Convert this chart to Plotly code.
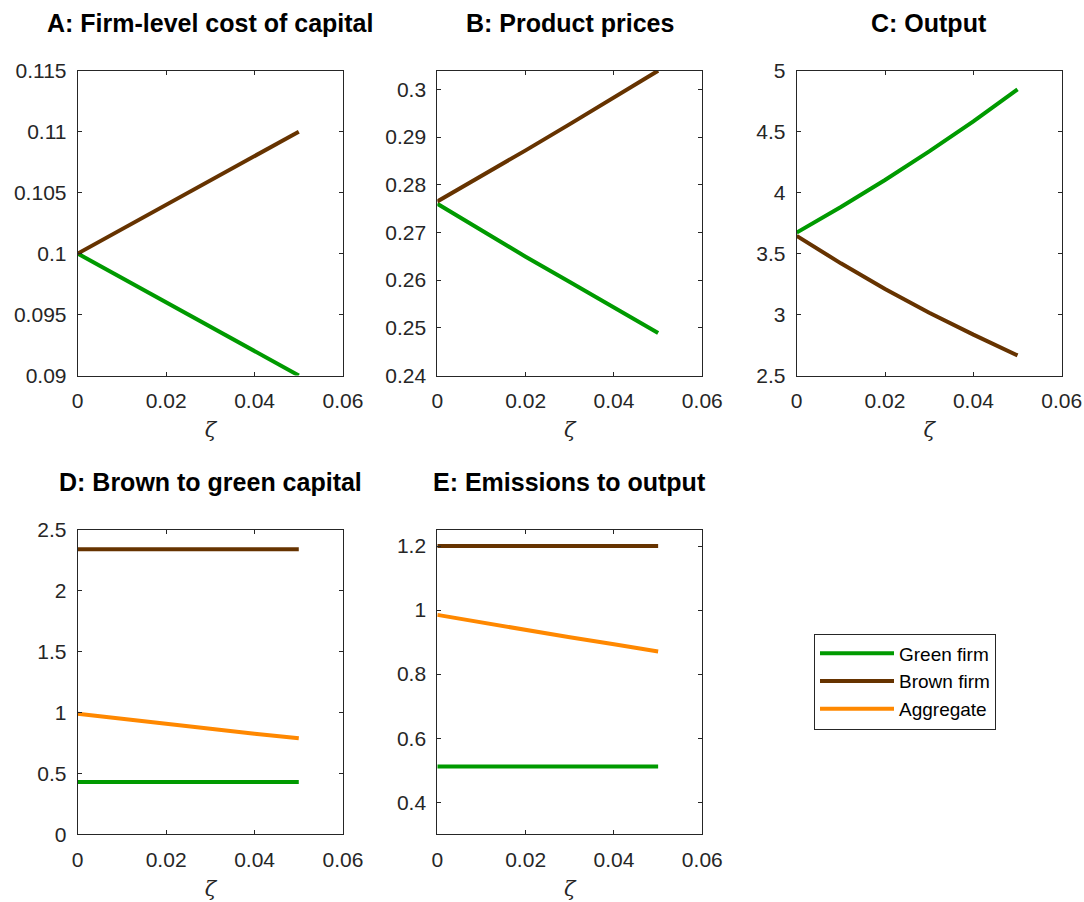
import plotly.graph_objects as go

zeta = [0, 0.01, 0.02, 0.03, 0.04, 0.05]

# A: Firm-level cost of capital
a_green = [0.100, 0.098, 0.096, 0.094, 0.092, 0.090]
a_brown = [0.100, 0.102, 0.104, 0.106, 0.108, 0.110]
# B: Product prices
b_green = [0.2760, 0.2704, 0.2649, 0.2596, 0.2542, 0.2489]
b_brown = [0.2765, 0.2818, 0.2872, 0.2927, 0.2983, 0.3039]
# C: Output
c_green = [3.672, 3.882, 4.104, 4.338, 4.584, 4.847]
c_brown = [3.645, 3.420, 3.210, 3.015, 2.835, 2.665]
# D: Brown to green capital
d_green = [0.430, 0.430, 0.430, 0.430, 0.430, 0.430]
d_brown = [2.341, 2.341, 2.341, 2.341, 2.341, 2.341]
d_aggr = [0.991, 0.948, 0.906, 0.866, 0.827, 0.789]
# E: Emissions to output
e_green = [0.512, 0.512, 0.512, 0.512, 0.512, 0.512]
e_brown = [1.200, 1.200, 1.200, 1.200, 1.200, 1.200]
e_aggr = [0.985, 0.961, 0.938, 0.915, 0.893, 0.871]

titles = ["A: Firm-level cost of capital", "B: Product prices", "C: Output",
          "D: Brown to green capital", "E: Emissions to output"]
x_ticks = [0, 0.02, 0.04, 0.06]
x_ticktext = ["0", "0.02", "0.04", "0.06"]
y_ranges = [[0.09, 0.115], [0.24, 0.3039], [2.5, 5], [0, 2.5], [0.3, 1.25]]
y_ticks = [
    [0.09, 0.095, 0.1, 0.105, 0.11, 0.115],
    [0.24, 0.25, 0.26, 0.27, 0.28, 0.29, 0.3],
    [2.5, 3, 3.5, 4, 4.5, 5],
    [0, 0.5, 1, 1.5, 2, 2.5],
    [0.4, 0.6, 0.8, 1, 1.2],
]
y_ticktext = [
    ["0.09", "0.095", "0.1", "0.105", "0.11", "0.115"],
    ["0.24", "0.25", "0.26", "0.27", "0.28", "0.29", "0.3"],
    ["2.5", "3", "3.5", "4", "4.5", "5"],
    ["0", "0.5", "1", "1.5", "2", "2.5"],
    ["0.4", "0.6", "0.8", "1", "1.2"],
]

GREEN = "#009a00"
BROWN = "#663300"
ORANGE = "#ff8800"
FONT = "Liberation Sans, Arial, Helvetica, sans-serif"
AX = "#262626"

W, H = 1084, 902
# plot areas in page pixels (left, right, top, bottom)
boxes = [
    (77.7, 343.0, 70.7, 375.5),
    (437.3, 702.3, 70.7, 375.5),
    (796.7, 1061.7, 70.7, 375.5),
    (77.7, 343.0, 530.0, 834.3),
    (437.3, 702.3, 530.0, 834.3),
]


def fx(px):
    return px / W


def fy(py):
    return 1 - py / H


series = [
    [(a_green, GREEN, "Green firm"), (a_brown, BROWN, "Brown firm")],
    [(b_green, GREEN, "Green firm"), (b_brown, BROWN, "Brown firm")],
    [(c_green, GREEN, "Green firm"), (c_brown, BROWN, "Brown firm")],
    [(d_green, GREEN, "Green firm"), (d_brown, BROWN, "Brown firm"), (d_aggr, ORANGE, "Aggregate")],
    [(e_green, GREEN, "Green firm"), (e_brown, BROWN, "Brown firm"), (e_aggr, ORANGE, "Aggregate")],
]

fig = go.Figure()
layout = dict(
    width=W, height=H,
    margin=dict(l=0, r=0, t=0, b=0, autoexpand=False),
    paper_bgcolor="white", plot_bgcolor="white",
    font=dict(family=FONT, size=21, color=AX),
    annotations=[],
)

for i, (box, ser) in enumerate(zip(boxes, series)):
    n = "" if i == 0 else str(i + 1)
    xa, ya = "x" + n, "y" + n
    for vals, col, name in ser:
        show = (i == 4)
        fig.add_trace(go.Scatter(x=zeta, y=vals, mode="lines", name=name,
                                 line=dict(color=col, width=4),
                                 xaxis=xa, yaxis=ya, showlegend=show,
                                 legendrank={"Green firm": 1, "Brown firm": 2, "Aggregate": 3}[name]))
    l, r, t, b = box
    common = dict(showline=True, linecolor=AX, linewidth=1, mirror="allticks",
                  ticks="inside", ticklen=4, tickcolor=AX, showgrid=False, zeroline=False,
                  automargin=False,
                  tickfont=dict(family=FONT, size=21, color=AX), ticklabelstandoff=6)
    layout["xaxis" + n] = dict(common, domain=[fx(l), fx(r)], anchor=ya, range=[0, 0.06],
                               tickvals=x_ticks, ticktext=x_ticktext,
                               title=dict(text="<i>ζ</i>", font=dict(family="DejaVu Serif, serif", size=21, color=AX), standoff=11))
    layout["yaxis" + n] = dict(common, domain=[fy(b), fy(t)], anchor=xa, range=y_ranges[i],
                               tickvals=y_ticks[i], ticktext=y_ticktext[i])
    layout["annotations"].append(dict(
        text="<b>" + titles[i] + "</b>", xref="paper", yref="paper",
        x=fx((l + r) / 2), y=fy(t - 48), xanchor="center", yanchor="middle",
        showarrow=False, font=dict(family=FONT, size=25, color="black")))

layout["legend"] = dict(x=fx(814), y=fy(681.5), xanchor="left", yanchor="middle",
                        bordercolor=AX, borderwidth=1, bgcolor="white",
                        font=dict(family=FONT, size=19, color="black"),
                        itemwidth=74, tracegroupgap=0)
fig.update_layout(**layout)
fig.write_html("out.html", config={"displayModeBar": False},
               post_script="document.body.style.margin='0';document.body.style.overflow='hidden';")
